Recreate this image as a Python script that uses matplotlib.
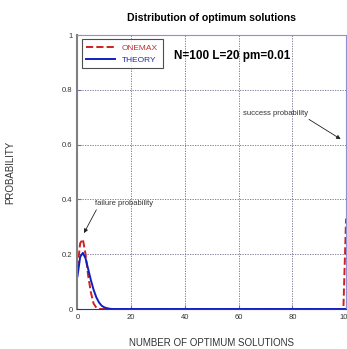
import numpy as np
import matplotlib.pyplot as plt

plt.rcParams['font.family'] = ['Liberation Sans', 'DejaVu Sans']

# solutions count 0..100
n = np.arange(0, 101)
onemax = np.zeros(101)
onemax[:9] = [0.15, 0.24, 0.255, 0.20, 0.12, 0.06, 0.02, 0.005, 0.0]
onemax[100] = 0.33
theory = np.zeros(101)
theory[:14] = [0.12, 0.19, 0.205, 0.185, 0.145, 0.105, 0.07, 0.043, 0.024,
               0.012, 0.006, 0.003, 0.001, 0.0]

xticks = [0, 20, 40, 60, 80, 100]
yticks = [0, 0.2, 0.4, 0.6, 0.8, 1]
ylabels = ['0', '0.2', '0.4', '0.6', '0.8', '1']

fig = plt.figure(figsize=(3.47, 3.49), dpi=100)
ax = fig.add_axes([0.2233, 0.1146, 0.774, 0.785])

ax.plot(n, onemax, '--', color='#d02020', lw=1.4, label='ONEMAX')
ax.plot(n, theory, '-', color='#1020c0', lw=1.4, label='THEORY')

ax.set_xlim(0, 100)
ax.set_ylim(0, 1)
ax.set_xticks(xticks)
ax.set_yticks(yticks)
ax.set_yticklabels(ylabels)
ax.tick_params(direction='in', labelsize=5.5, colors='#7070b0', labelcolor='#333333', length=3)
ax.grid(True, linestyle=(0, (1.5, 1.5)), color='#6a6a88', lw=0.6)
for s in ['top', 'right']:
    ax.spines[s].set_color('#9090d0')
ax.spines['left'].set_color('#808080')
ax.spines['left'].set_linewidth(1.5)
ax.spines['bottom'].set_color('#2030c0')

ax.set_title('Distribution of optimum solutions', fontsize=7.6, fontweight='bold', pad=10)
ax.set_xlabel('NUMBER OF OPTIMUM SOLUTIONS', fontsize=7, color='#333333', labelpad=12)
ax.set_ylabel('PROBABILITY', fontsize=7, color='#333333', labelpad=34)

leg = ax.legend(loc='upper left', fontsize=6, frameon=True, fancybox=False,
                edgecolor='#222222', handlelength=3.5, borderaxespad=0.5,
                labelspacing=0.5, borderpad=0.55)
leg.get_frame().set_linewidth(0.8)
for t, c in zip(leg.get_texts(), ['#c03030', '#2030a0']):
    t.set_color(c)

ax.text(36, 0.925, 'N=100 L=20 pm=0.01', fontsize=8.5, fontweight='bold', va='center')

ax.annotate('failure probability', xy=(2.4, 0.277), xytext=(6.5, 0.385),
            fontsize=5.5, color='#333333', va='center',
            arrowprops=dict(arrowstyle='-|>', color='#222222', lw=0.6,
                            mutation_scale=6, shrinkA=0, shrinkB=0,
                            relpos=(0.05, 0.0)))
ax.annotate('success probability', xy=(98, 0.62), xytext=(61.5, 0.715),
            fontsize=5.5, color='#333333', va='center',
            arrowprops=dict(arrowstyle='-|>', color='#222222', lw=0.6,
                            mutation_scale=6, shrinkA=0, shrinkB=0,
                            relpos=(0.95, 0.0)))

fig.savefig('out.png', dpi=100)
